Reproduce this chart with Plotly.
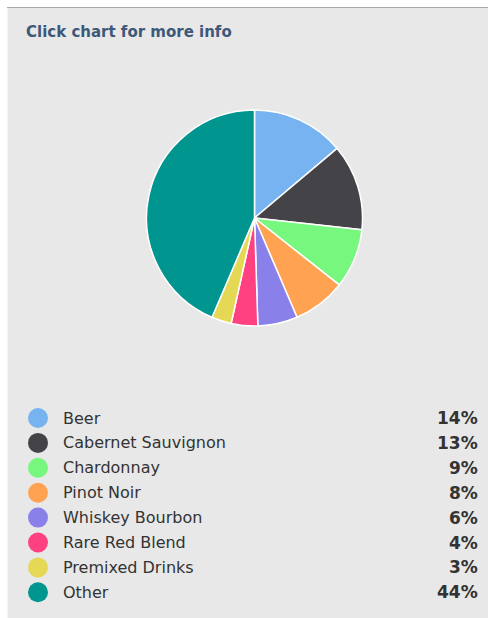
import plotly.graph_objects as go

# Drink categories and their share of the total (percent)
categories = ["Beer", "Cabernet Sauvignon", "Chardonnay", "Pinot Noir",
              "Whiskey Bourbon", "Rare Red Blend", "Premixed Drinks", "Other"]
shares = [14, 13, 9, 8, 6, 4, 3, 44]
colors = ["#77b3f0", "#434348", "#78f77f", "#ffa352",
          "#8a80e9", "#ff4181", "#e4d854", "#00958f"]
title_text = "Click chart for more info"

W, H = 488, 618
cx, cy, r = 254.5, 218, 108

fig = go.Figure()

fig.add_trace(go.Pie(
    labels=categories,
    values=shares,
    sort=False,
    direction="clockwise",
    rotation=0,
    textinfo="none",
    marker=dict(colors=colors, line=dict(color="#ffffff", width=1.5)),
    domain=dict(x=[(cx - r) / W, (cx + r) / W],
                y=[(H - cy - r) / H, (H - cy + r) / H]),
    showlegend=False,
))

# Legend rows: dot, label and percentage
row0, step = 418, 24.9
row_y = [row0 + step * i for i in range(len(categories))]

fig.add_trace(go.Scatter(
    x=[38] * len(categories),
    y=row_y,
    mode="markers",
    marker=dict(size=20, color=colors, line=dict(width=0)),
    hoverinfo="skip",
    showlegend=False,
))

annotations = [dict(
    x=24, y=32, xref="x", yref="y", text="<b>%s</b>" % title_text,
    showarrow=False, xanchor="left", yanchor="middle",
    font=dict(family="DejaVu Sans", size=15, color="#3d5879"),
)]
for name, val, y in zip(categories, shares, row_y):
    annotations.append(dict(
        x=61, y=y, xref="x", yref="y", text=name, showarrow=False,
        xanchor="left", yanchor="middle",
        font=dict(family="DejaVu Sans", size=16, color="#333333"),
    ))
    annotations.append(dict(
        x=480, y=y, xref="x", yref="y", text="<b>%d%%</b>" % val,
        showarrow=False, xanchor="right", yanchor="middle",
        font=dict(family="DejaVu Sans", size=17, color="#333333"),
    ))

shapes = [
    dict(type="rect", xref="x", yref="y", x0=0, x1=7.5, y0=0, y1=H,
         fillcolor="#ffffff", line=dict(width=0), layer="below"),
    dict(type="rect", xref="x", yref="y", x0=0, x1=W, y0=0, y1=7,
         fillcolor="#ffffff", line=dict(width=0), layer="below"),
    dict(type="line", xref="x", yref="y", x0=7, x1=W, y0=7.5, y1=7.5,
         line=dict(color="#a9a9a9", width=1), layer="below"),
]

fig.update_layout(
    width=W, height=H,
    margin=dict(l=0, r=0, t=0, b=0),
    paper_bgcolor="#e8e8e8",
    plot_bgcolor="rgba(0,0,0,0)",
    xaxis=dict(range=[0, W], visible=False, fixedrange=True),
    yaxis=dict(range=[H, 0], visible=False, fixedrange=True),
    annotations=annotations,
    shapes=shapes,
    showlegend=False,
)

fig.write_html("out.html")
